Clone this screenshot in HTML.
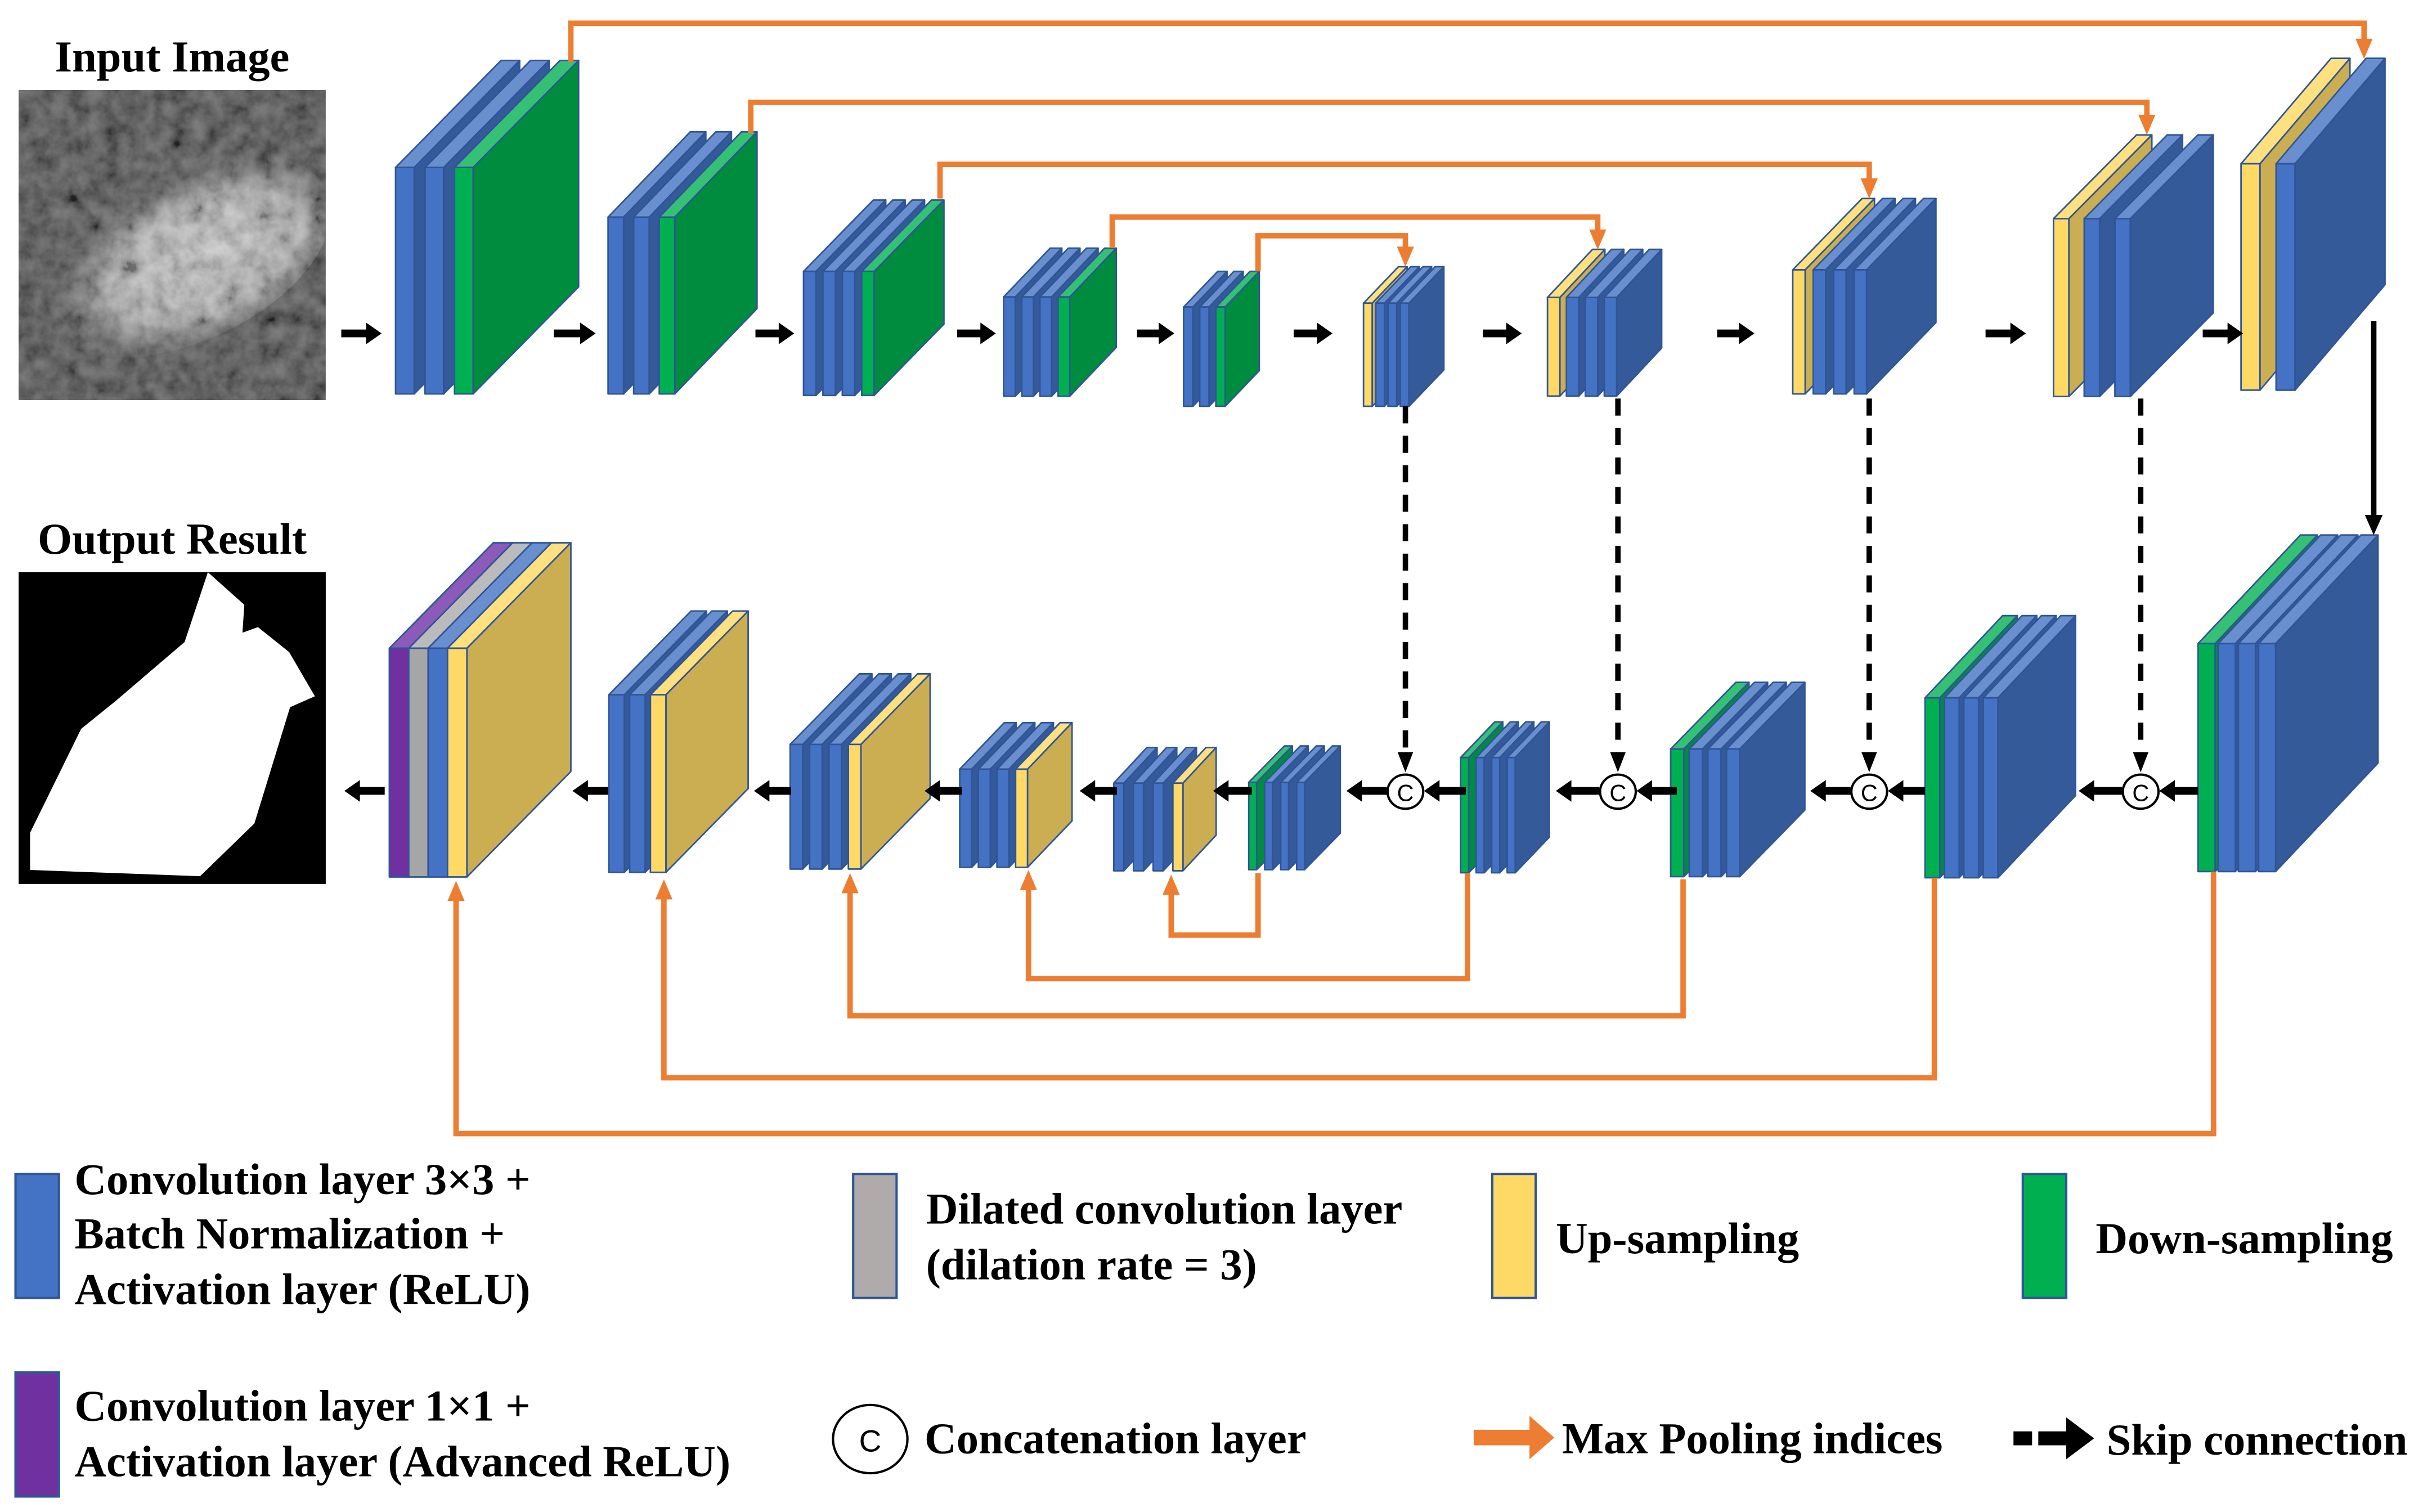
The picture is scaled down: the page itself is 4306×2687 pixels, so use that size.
<!DOCTYPE html>
<html><head><meta charset="utf-8"><style>
html,body{margin:0;padding:0;background:#fff;}
svg{display:block;}
text{font-family:"Liberation Serif",serif;font-weight:bold;fill:#000;}
</style></head><body>
<svg id="s" xmlns="http://www.w3.org/2000/svg" width="4306" height="2687" viewBox="0 0 1562 975" preserveAspectRatio="none">
<defs>
<clipPath id="imgclip"><rect x="12" y="58" width="198" height="200"/></clipPath>
<filter id="tex" x="0" y="0" width="100%" height="100%">
<feTurbulence type="fractalNoise" baseFrequency="0.09" numOctaves="4" seed="7" result="n"/>
<feColorMatrix type="saturate" values="0" in="n" result="g"/>
<feComponentTransfer in="g"><feFuncR type="linear" slope="1.8" intercept="-0.4"/><feFuncG type="linear" slope="1.8" intercept="-0.4"/><feFuncB type="linear" slope="1.8" intercept="-0.4"/><feFuncA type="linear" slope="0" intercept="0.6"/></feComponentTransfer>
</filter>
<radialGradient id="blob" cx="0.55" cy="0.55" r="0.55">
<stop offset="0" stop-color="#c4c4c4"/><stop offset="0.6" stop-color="#a0a0a0"/><stop offset="1" stop-color="#3c3c3c" stop-opacity="0"/>
</radialGradient>
</defs>
<g clip-path="url(#imgclip)">
<rect x="12" y="58" width="198" height="200" fill="#353535"/>
<ellipse cx="120" cy="165" rx="100" ry="55" fill="url(#blob)" transform="rotate(-25 120 165)"/>
<rect x="12" y="58" width="198" height="200" filter="url(#tex)" opacity="0.6"/>
</g>
<rect x="12" y="369" width="198" height="201" fill="#000"/>
<polygon fill="#fff" points="134,369 157.5,390 156.3,408 166.3,404.4 186.4,420.5 203,449 187,456 164,531 129,565 19.4,561 19.4,537 52.3,470 74.6,452 119,414"/>
<text x="111" y="46" font-size="28.5" text-anchor="middle">Input Image</text>
<text x="111" y="357" font-size="28.5" text-anchor="middle">Output Result</text>
<g id="blocks"></g>
<g id="lines"></g>
<rect x="10" y="757" width="28" height="80" fill="#4472C4" stroke="#2F5597" stroke-width="1.5"/>
<text x="48" y="770" font-size="28.5">Convolution layer 3×3 +</text>
<text x="48" y="805" font-size="28.5">Batch Normalization +</text>
<text x="48" y="841" font-size="28.5">Activation layer (ReLU)</text>
<rect x="550" y="757" width="28" height="80" fill="#AFABAB" stroke="#2F5597" stroke-width="1.5"/>
<text x="597" y="789" font-size="28.5">Dilated convolution layer</text>
<text x="597" y="825" font-size="28.5">(dilation rate = 3)</text>
<rect x="962" y="757" width="28" height="80" fill="#FFD966" stroke="#2F5597" stroke-width="1.5"/>
<text x="1003" y="808" font-size="28.5">Up-sampling</text>
<rect x="1304" y="757" width="28" height="80" fill="#00B050" stroke="#2F5597" stroke-width="1.5"/>
<text x="1351" y="808" font-size="28.5">Down-sampling</text>
<rect x="10" y="885" width="28" height="80" fill="#7030A0" stroke="#2F5597" stroke-width="1.5"/>
<text x="48" y="916" font-size="28.5">Convolution layer 1×1 +</text>
<text x="48" y="952" font-size="28.5">Activation layer (Advanced ReLU)</text>
<ellipse cx="561" cy="928" rx="24" ry="22" fill="#fff" stroke="#000" stroke-width="1.5"/>
<text x="561" y="936" font-size="20" text-anchor="middle" style="font-weight:normal;font-family:'Liberation Sans',sans-serif">C</text>
<text x="596" y="937" font-size="28.5">Concatenation layer</text>
<rect x="950" y="922" width="38" height="10" fill="#ED7D31"/>
<polygon points="986,913 1002,927 986,941" fill="#ED7D31"/>
<text x="1007" y="937" font-size="28.5">Max Pooling indices</text>
<rect x="1298" y="923" width="12" height="9" fill="#000"/>
<rect x="1314" y="923" width="20" height="9" fill="#000"/>
<polygon points="1332,914 1350,927.5 1332,941" fill="#000"/>
<text x="1358" y="938" font-size="28.5">Skip connection</text>
</svg>
<script>
var NS="http://www.w3.org/2000/svg";
var C={B:["#4472C4","#355A9A","#6A8FCF"],G:["#00B050","#008C3E","#34C174"],Y:["#FFD966","#CCAE52","#FFE07F"],R:["#A6A6A6","#9A9A9A","#BBBBBB"],P:["#7030A0","#6A2C98","#8C5AB8"]};
var bg=document.getElementById("blocks"),lg=document.getElementById("lines");
function el(p,t,a){var e=document.createElementNS(NS,t);for(var k in a)e.setAttribute(k,a[k]);p.appendChild(e);return e;}
function pts(a){return a.map(function(p){return p[0].toFixed(2)+","+p[1].toFixed(2)}).join(" ");}
function block(x0,top,h,pitch,w,dx,dy,cols){
 for(var i=0;i<cols.length;i++){
  var x=x0+i*pitch,c=C[cols[i]],y=top,b=top+h;
  var st={stroke:"#2F5597","stroke-width":1,"stroke-linejoin":"round"};
  el(bg,"polygon",Object.assign({points:pts([[x+w,y],[x+w+dx,y+dy],[x+w+dx,b+dy],[x+w,b]]),fill:c[1]},st));
  el(bg,"polygon",Object.assign({points:pts([[x,y],[x+w,y],[x+w+dx,y+dy],[x+dx,y+dy]]),fill:c[2]},st));
  el(bg,"rect",Object.assign({x:x,y:y,width:w,height:h,fill:c[0]},st));
 }
}
block(255,108,146,19,12,68,-69,["B","B","G"]);
block(392,140,114,16.5,10,53,-55,["B","B","G"]);
block(518,175,80,12.5,8,45,-46,["B","B","B","G"]);
block(647,191.5,64,11.7,7.5,30,-31.5,["B","B","B","G"]);
block(763,198,64,10.4,6,22,-23,["B","B","G"]);
block(879,195.5,66.5,7.9,5.6,22.5,-23.5,["Y","B","B","B"]);
block(997.6,191.8,63.6,12.2,8,29,-31,["Y","B","B","B"]);
block(1155.7,174,80,13.2,8,44.7,-46,["Y","B","B","B"]);
block(1323.8,141,114.7,19.8,9.9,53.5,-54,["Y","B","B"]);
block(1444.7,105.6,146,22.6,12.2,58,-68,["Y","B"]);
block(251,418,147.5,12.5,12.5,67,-68,["P","R","B","Y"]);
block(392.5,448,114.5,13.4,10,53,-54,["B","B","Y"]);
block(509.4,480,80.4,12.5,8.1,44.6,-45.5,["B","B","B","Y"]);
block(618.7,496,63.3,12,7.7,28.7,-30,["B","B","B","Y"]);
block(718,505,56.5,12.7,6.5,21.4,-23,["B","B","B","Y"]);
block(805,504.5,56.3,10.3,5.1,23,-23.5,["G","B","B","B"]);
block(941.6,488.5,74.3,10,5.2,22,-23,["G","B","B","B"]);
block(1077,483,82.3,12,8.5,42,-43,["G","B","B","B"]);
block(1241,450,116,12.5,9.5,50,-53,["G","B","B","B"]);
block(1417,415,147,13,11,66,-70,["G","B","B","B"]);
function arrowR(x1,x2,y){el(lg,"rect",{x:x1,y:y-2.5,width:(x2-x1-9),height:5,fill:"#000"});el(lg,"polygon",{points:pts([[x2-10,y-7],[x2,y],[x2-10,y+7]]),fill:"#000"});}
function arrowL(x1,x2,y){el(lg,"rect",{x:x2+9,y:y-2.5,width:(x1-x2-9),height:5,fill:"#000"});el(lg,"polygon",{points:pts([[x2+10,y-7],[x2,y],[x2+10,y+7]]),fill:"#000"});}
[[220,246],[357,384],[487,512],[617,642],[733,757],[834,859],[956,981],[1107,1131],[1280,1306],[1420,1446]].forEach(function(a){arrowR(a[0],a[1],215);});
[[248,222],[392,369],[510,486],[620,596],[720,696],[807,782],[894,868],[945,918],[1031,1003],[1081,1055],[1193,1167],[1241,1217],[1368,1340],[1417,1392]].forEach(function(a){arrowL(a[0],a[1],510);});
[[906,262],[1043,257],[1205,257],[1380,257]].forEach(function(a){
 var x=a[0];
 el(lg,"line",{x1:x,y1:a[1],x2:x,y2:486,stroke:"#000","stroke-width":3.5,"stroke-dasharray":"11,8"});
 el(lg,"polygon",{points:pts([[x-5,485],[x+5,485],[x,498]]),fill:"#000"});
 el(lg,"ellipse",{cx:x,cy:510.5,rx:11.5,ry:11,fill:"#fff",stroke:"#000","stroke-width":1.5});
 var t=el(lg,"text",{x:x,y:516.5,"font-size":15,"text-anchor":"middle",style:"font-weight:normal;font-family:'Liberation Sans',sans-serif"});t.textContent="C";
});
el(lg,"rect",{x:1528.5,y:207,width:3.5,height:127,fill:"#000"});
el(lg,"polygon",{points:pts([[1524.5,332],[1536,332],[1530.2,345]]),fill:"#000"});
var O="#ED7D31";
function opath(d){el(lg,"path",{d:d,fill:"none",stroke:O,"stroke-width":3.5,"stroke-linejoin":"miter"});}
function headDown(x,y){el(lg,"polygon",{points:pts([[x-5.5,y-13],[x+5.5,y-13],[x,y]]),fill:O});}
function headUp(x,y){el(lg,"polygon",{points:pts([[x-5.5,y+13],[x+5.5,y+13],[x,y]]),fill:O});}
opath("M368,40 V15 H1524 V26");headDown(1524,38);
opath("M484,86 V66 H1384 V75");headDown(1384,87);
opath("M606,128 V106 H1205 V116");headDown(1205,128);
opath("M717,160 V140 H1030 V149");headDown(1030,161);
opath("M811,175 V152 H906 V160");headDown(906,172);
opath("M811,563 V603 H755 V576");headUp(755,564);
opath("M946,563 V631 H663 V573");headUp(663,561);
opath("M1085,567 V655 H548 V575");headUp(548,563);
opath("M1247,566 V695 H428 V579");headUp(428,567);
opath("M1427,562 V731 H294 V580");headUp(294,568);
</script>
</body></html>
